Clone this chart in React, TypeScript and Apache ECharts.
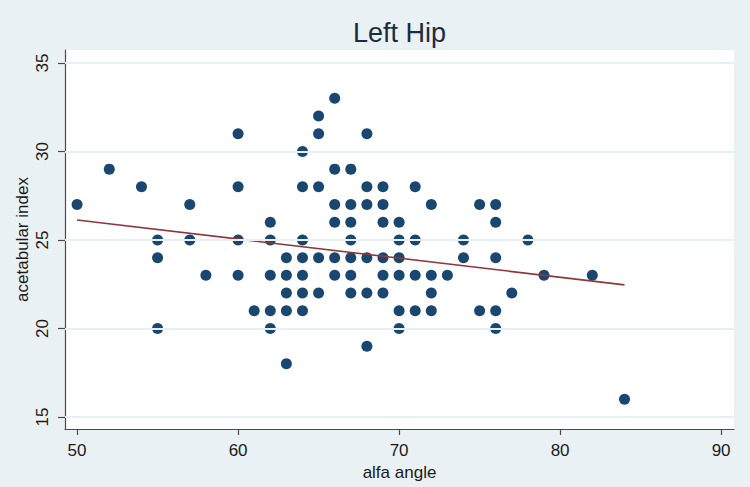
import React, { useEffect, useRef } from "react";
import * as echarts from "echarts";

// Observations: alfa angle (x) and acetabular index (y), grouped by angle
const alfaAngle = [
  50, 52, 54,
  55, 55, 55,
  57, 57,
  58,
  60, 60, 60, 60,
  61,
  62, 62, 62, 62, 62,
  63, 63, 63, 63, 63,
  64, 64, 64, 64, 64, 64, 64,
  65, 65, 65, 65, 65,
  66, 66, 66, 66, 66, 66,
  67, 67, 67, 67, 67, 67, 67,
  68, 68, 68, 68, 68, 68,
  69, 69, 69, 69, 69, 69,
  70, 70, 70, 70, 70, 70,
  71, 71, 71, 71,
  72, 72, 72, 72,
  73,
  74, 74,
  75, 75,
  76, 76, 76, 76, 76,
  77, 78, 79, 82, 84,
];
const acetabularIndex = [
  27, 29, 28,
  25, 24, 20,
  27, 25,
  23,
  31, 28, 25, 23,
  21,
  26, 25, 23, 21, 20,
  24, 23, 22, 21, 18,
  30, 28, 25, 24, 23, 22, 21,
  32, 31, 28, 24, 22,
  33, 29, 27, 26, 24, 23,
  29, 27, 26, 25, 24, 23, 22,
  31, 28, 27, 24, 22, 19,
  28, 27, 26, 24, 23, 22,
  26, 25, 24, 23, 21, 20,
  28, 25, 23, 21,
  27, 23, 22, 21,
  23,
  25, 24,
  27, 21,
  27, 26, 24, 21, 20,
  22, 25, 23, 23, 16,
];

// Fitted linear trend, endpoints at the observed angle range
const fitX = [50, 84];
const fitY = [26.13, 22.46];

const xTicks = [50, 60, 70, 80, 90];
const yTicks = [15, 20, 25, 30, 35];

const GRID = { left: 65, right: 16, top: 50, bottom: 58 };
const W = 750;

export default function App() {
  const ref = useRef<HTMLDivElement>(null);

  useEffect(() => {
    if (!ref.current) return;
    const chart = echarts.init(ref.current, null, { renderer: "svg" });
    const font = "'Liberation Sans', Arial, Helvetica, sans-serif";
    const axisColor = "#4a4a4a";
    const textColor = "#1a1a1a";

    chart.setOption({
      animation: false,
      backgroundColor: "#eaf1f4",
      textStyle: { fontFamily: font },
      // title centred over the plot region
      graphic: [
        {
          type: "text",
          x: GRID.left + (W - GRID.left - GRID.right) / 2,
          y: 33,
          style: {
            text: "Left Hip",
            fontSize: 27,
            fontFamily: font,
            fill: "#1e2b3c",
            align: "center",
            verticalAlign: "middle",
          },
        },
      ],
      grid: {
        ...GRID,
        outerBoundsMode: "none",
        containLabel: false,
        show: true,
        backgroundColor: "#ffffff",
        borderWidth: 0,
      },
      xAxis: {
        type: "value",
        min: 49.25,
        max: 90.8,
        name: "alfa angle",
        nameLocation: "middle",
        nameGap: 35,
        nameTextStyle: { fontSize: 17, color: textColor },
        axisLine: { show: true, onZero: false, lineStyle: { color: axisColor, width: 1.2 } },
        axisTick: { show: true, length: 6, customValues: xTicks, lineStyle: { color: axisColor, width: 1.2 } },
        axisLabel: { customValues: xTicks, fontSize: 17, color: textColor, margin: 13 },
        splitLine: { show: false },
      },
      yAxis: {
        type: "value",
        min: 14.32,
        max: 35.73,
        name: "acetabular index",
        nameLocation: "middle",
        nameGap: 34,
        nameMoveOverlap: false,
        nameTextStyle: { fontSize: 17, color: textColor },
        axisLine: { show: true, onZero: false, lineStyle: { color: axisColor, width: 1.2 } },
        axisTick: { show: true, length: 7, customValues: yTicks, lineStyle: { color: axisColor, width: 1.2 } },
        axisLabel: { customValues: yTicks, fontSize: 17, color: textColor, rotate: 90, margin: 14 },
        splitLine: { show: false },
      },
      series: [
        {
          type: "line",
          data: [],
          silent: true,
          markLine: {
            silent: true,
            symbol: "none",
            label: { show: false },
            lineStyle: { color: "#e6eff4", width: 2, type: "solid", opacity: 1 },
            emphasis: { disabled: true },
            data: yTicks.map((v) => ({ yAxis: v })),
          },
        },
        {
          type: "scatter",
          symbol: "circle",
          symbolSize: 11,
          itemStyle: { color: "#1a476f", opacity: 1 },
          data: alfaAngle.map((x, i) => [x, acetabularIndex[i]]),
          z: 3,
        },
        {
          type: "line",
          data: fitX.map((x, i) => [x, fitY[i]]),
          showSymbol: false,
          symbol: "none",
          lineStyle: { color: "#90353b", width: 1.6 },
          z: 4,
        },
      ],
    });
    return () => chart.dispose();
  }, []);

  return <div ref={ref} style={{ width: 750, height: 487, position: "absolute", left: 0, top: 0 }} />;
}
